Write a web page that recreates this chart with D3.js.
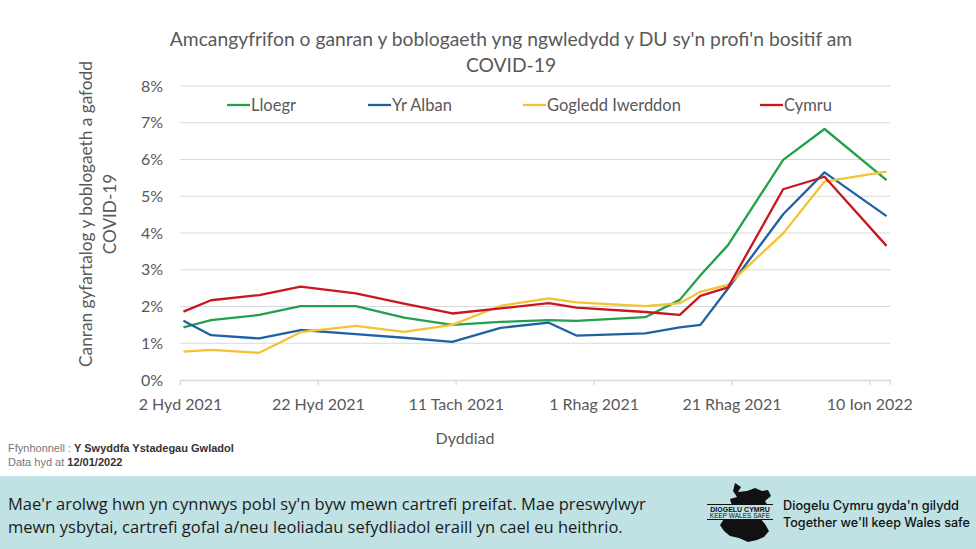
<!DOCTYPE html>
<html>
<head>
<meta charset="utf-8">
<script src="https://cdn.jsdelivr.net/npm/d3@7"></script>
<style>
  body { margin: 0; background: #fff; }
  svg { display: block; }
</style>
</head>
<body>
<main></main>
<script>
const width = 976
const height = 549

// data (per cent testing positive)
const dates = ['2021-10-02', '2021-10-06', '2021-10-13', '2021-10-19', '2021-10-27', '2021-11-03',
  '2021-11-10', '2021-11-17', '2021-11-24', '2021-11-28', '2021-12-08', '2021-12-13',
  '2021-12-16', '2021-12-20', '2021-12-28', '2022-01-03', '2022-01-12']
const lloegr = [1.43, 1.63, 1.77, 2.01, 2.01, 1.70, 1.50, 1.58, 1.63, 1.61, 1.71, 2.18, 2.85, 3.67, 5.99, 6.83, 5.44]
const yrAlban = [1.61, 1.22, 1.13, 1.36, 1.25, 1.15, 1.04, 1.42, 1.56, 1.21, 1.27, 1.43, 1.50, 2.49, 4.51, 5.65, 4.46]
const gogleddIwerddon = [0.77, 0.82, 0.74, 1.30, 1.47, 1.31, 1.50, 2.02, 2.22, 2.11, 2.01, 2.09, 2.40, 2.59, 3.99, 5.40, 5.67]
const cymru = [1.86, 2.17, 2.31, 2.54, 2.36, 2.08, 1.81, 1.95, 2.09, 1.97, 1.85, 1.77, 2.29, 2.52, 5.19, 5.53, 3.65]

const seriesNames = ['Lloegr', 'Yr Alban', 'Gogledd Iwerddon', 'Cymru']
const seriesColors = ['#22a04b', '#1f62a3', '#f4c232', '#c8171f']

const tickDates = ['2021-10-02', '2021-10-22', '2021-11-11', '2021-12-01', '2021-12-21', '2022-01-10']
const tickLabels = ['2 Hyd 2021', '22 Hyd 2021', '11 Tach 2021', '1 Rhag 2021', '21 Rhag 2021', '10 Ion 2022']
const yTicks = [0, 1, 2, 3, 4, 5, 6, 7, 8]

const titleLines = ["Amcangyfrifon o ganran y boblogaeth yng ngwledydd y DU sy'n profi'n bositif am", 'COVID-19']
const yTitleLines = ['Canran gyfartalog y boblogaeth a gafodd', 'COVID-19']
const xTitle = 'Dyddiad'

const legendX = [227, 368, 523, 760]

const plot = { left: 180, right: 890, top: 86, bottom: 380 }
const txt = '#595959'
const grid = '#d9d9d9'
const font = 'Lato, "Open Sans", sans-serif'

const parse = d3.utcParse('%Y-%m-%d')

const svg = d3.select('main')
  .append('svg')
  .attr('width', width)
  .attr('height', height)
  .style('font-family', font)

// stretch/shrink font size so a text lands on the width seen in the picture
const fit = (sel, target) => {
  const w = sel.node().getComputedTextLength()
  const fs = parseFloat(sel.attr('font-size'))
  sel.attr('font-size', (fs * target / w).toFixed(2))
}

const xScale = d3.scaleUtc()
  .domain([parse('2021-10-02'), parse('2022-01-13')])
  .range([plot.left, plot.right])

const yScale = d3.scaleLinear()
  .domain([0, 8])
  .range([plot.bottom, plot.top])

// title
const t1 = svg.append('text').attr('x', 511).attr('y', 46).attr('text-anchor', 'middle')
  .attr('font-size', 19).attr('fill', txt).text(titleLines[0])
fit(t1, 683)
svg.append('text').attr('x', 511).attr('y', 72).attr('text-anchor', 'middle')
  .attr('font-size', t1.attr('font-size')).attr('fill', txt).text(titleLines[1])

// gridlines
svg.append('g')
  .selectAll('line')
  .data(yTicks.slice(1))
  .enter()
  .append('line')
  .attr('x1', plot.left)
  .attr('x2', plot.right)
  .attr('y1', d => yScale(d))
  .attr('y2', d => yScale(d))
  .attr('stroke', grid)
  .attr('stroke-width', 1)

// y axis
const yAxis = svg.append('g')
  .attr('transform', `translate(${plot.left},0)`)
  .call(d3.axisLeft(yScale).tickValues(yTicks).tickSize(0).tickPadding(17).tickFormat(d => d + '%'))
yAxis.select('.domain').remove()
yAxis.selectAll('text').attr('font-size', 16).attr('fill', txt).style('font-family', font)

// x axis
const xAxis = svg.append('g')
  .attr('transform', `translate(0,${plot.bottom})`)
  .call(d3.axisBottom(xScale)
    .tickValues(tickDates.map(parse))
    .tickSize(5)
    .tickPadding(14)
    .tickFormat((d, i) => tickLabels[i]))
xAxis.select('.domain').attr('stroke', grid).attr('stroke-width', 1.3)
xAxis.selectAll('.tick line').attr('stroke', grid).attr('stroke-width', 1.3)
xAxis.selectAll('text').attr('font-size', 16).attr('fill', txt).style('font-family', font)

// axis titles
svg.append('text').attr('x', 465).attr('y', 444).attr('text-anchor', 'middle')
  .attr('font-size', 16).attr('fill', txt).text(xTitle)

const yt = svg.append('g').attr('transform', 'translate(0,214) rotate(-90)')
const yt1 = yt.append('text').attr('x', 0).attr('y', 92).attr('text-anchor', 'middle')
  .attr('font-size', 16).attr('fill', txt).text(yTitleLines[0])
fit(yt1, 306)
yt.append('text').attr('x', 0).attr('y', 116).attr('text-anchor', 'middle')
  .attr('font-size', yt1.attr('font-size')).attr('fill', txt).text(yTitleLines[1])

// lines
const allSeries = [lloegr, yrAlban, gogleddIwerddon, cymru]
const line = d3.line()
  .x((d, i) => xScale(d3.utcHour.offset(parse(dates[i]), 12)))
  .y(d => yScale(d))

svg.append('g')
  .selectAll('path')
  .data(allSeries)
  .enter()
  .append('path')
  .attr('d', d => line(d))
  .attr('fill', 'none')
  .attr('stroke', (d, i) => seriesColors[i])
  .attr('stroke-width', 2.3)
  .attr('stroke-linejoin', 'round')

// legend
const legend = svg.append('g')
  .selectAll('g')
  .data(seriesNames)
  .enter()
  .append('g')
  .attr('transform', (d, i) => `translate(${legendX[i]},105)`)
legend.append('line')
  .attr('x1', 0).attr('x2', 23)
  .attr('stroke', (d, i) => seriesColors[i])
  .attr('stroke-width', 2.3)
legend.append('text')
  .attr('x', 24).attr('y', 6)
  .attr('font-size', 16.5).attr('fill', txt)
  .text(d => d)

// source note
const src = svg.append('g').style('font-family', '"Liberation Sans", Arial, sans-serif').attr('font-size', 11)
const s1 = src.append('text').attr('x', 8).attr('y', 452).attr('fill', '#777')
s1.append('tspan').text('Ffynhonnell : ')
s1.append('tspan').attr('font-weight', 'bold').attr('fill', '#333').text('Y Swyddfa Ystadegau Gwladol')
const s2 = src.append('text').attr('x', 8).attr('y', 466).attr('fill', '#777')
s2.append('tspan').text('Data hyd at ')
s2.append('tspan').attr('font-weight', 'bold').attr('fill', '#333').text('12/01/2022')

// bottom band
svg.append('rect').attr('x', 0).attr('y', 476).attr('width', width).attr('height', height - 476)
  .attr('fill', '#c0e2e4')

const note = svg.append('g').style('font-family', '"Open Sans", sans-serif').attr('fill', '#1b1b1b')
const n1 = note.append('text').attr('x', 8).attr('y', 510).attr('font-size', 16)
  .text("Mae'r arolwg hwn yn cynnwys pobl sy'n byw mewn cartrefi preifat. Mae preswylwyr")
fit(n1, 638)
note.append('text').attr('x', 8).attr('y', 533).attr('font-size', n1.attr('font-size'))
  .text('mewn ysbytai, cartrefi gofal a/neu leoliadau sefydliadol eraill yn cael eu heithrio.')

// logo: rough silhouette of Wales with the campaign strap
const logo = svg.append('g').attr('transform', 'translate(705,482)')
logo.append('path')
  .attr('d', 'M30,1 L36,5 L33,10 L42,9 L50,6 L57,9 L63,8 L66,14 L60,19 L63,24 L57,29 L55,36 L60,42 L64,49 L59,55 L52,58 L43,60 L34,56 L25,54 L19,49 L15,43 L19,37 L15,33 L21,28 L27,24 L25,17 L32,15 L28,9 Z')
  .attr('fill', '#111')
logo.append('rect').attr('x', 0).attr('y', 22).attr('width', 70).attr('height', 16).attr('fill', '#c0e2e4')
logo.append('line').attr('x1', 2).attr('x2', 68).attr('y1', 22.5).attr('y2', 22.5).attr('stroke', '#111').attr('stroke-width', 1)
logo.append('line').attr('x1', 2).attr('x2', 68).attr('y1', 37.5).attr('y2', 37.5).attr('stroke', '#111').attr('stroke-width', 1)
logo.append('text').attr('x', 35).attr('y', 29.5).attr('text-anchor', 'middle').attr('font-size', 7)
  .attr('font-weight', 'bold').attr('fill', '#111').style('font-family', '"Liberation Sans Narrow", "Liberation Sans", sans-serif')
  .text('DIOGELU CYMRU')
logo.append('text').attr('x', 35).attr('y', 36).attr('text-anchor', 'middle').attr('font-size', 6.5)
  .attr('fill', '#111').style('font-family', '"Liberation Sans Narrow", "Liberation Sans", sans-serif')
  .text('KEEP WALES SAFE')

const tag = svg.append('g').style('font-family', 'Inter, sans-serif').attr('fill', '#111').attr('font-weight', 500)
const g1 = tag.append('text').attr('x', 783).attr('y', 510).attr('font-size', 13).text("Diogelu Cymru gyda'n gilydd")
fit(g1, 176)
const g2 = tag.append('text').attr('x', 783).attr('y', 527).attr('font-size', 13).text("Together we'll keep Wales safe")
fit(g2, 187)
</script>
</body>
</html>
